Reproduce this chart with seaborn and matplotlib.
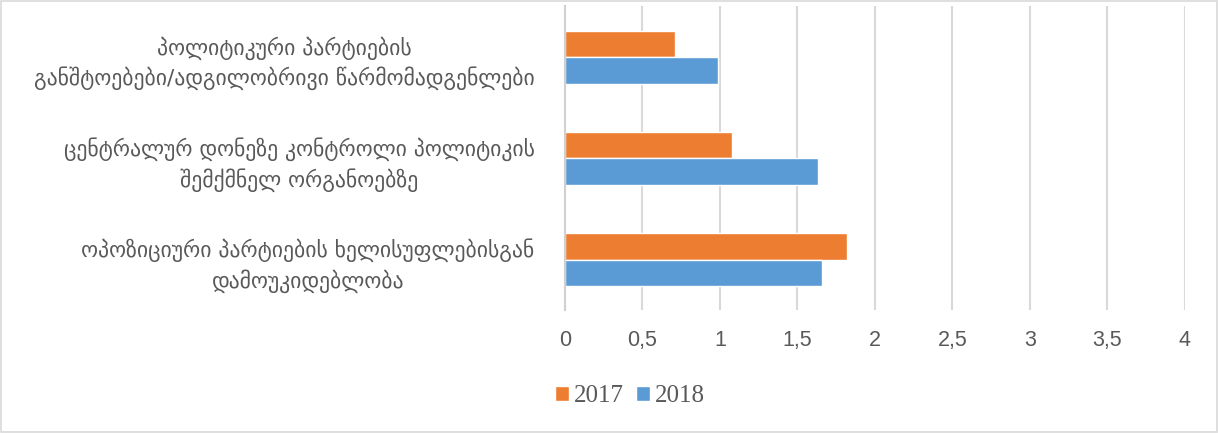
import matplotlib
matplotlib.use("Agg")
import matplotlib.pyplot as plt
import seaborn as sns
import pandas as pd
from matplotlib.ticker import FixedLocator
from matplotlib.patches import Rectangle

categories = [
    "პოლიტიკური პარტიების\nგანშტოებები/ადგილობრივი წარმომადგენლები",
    "ცენტრალურ დონეზე კონტროლი პოლიტიკის\nშემქმნელ ორგანოებზე",
    "ოპოზიციური პარტიების ხელისუფლებისგან\nდამოუკიდებლობა",
]
years = ["2017", "2018"]
values_2017 = [0.71, 1.08, 1.82]
values_2018 = [0.99, 1.63, 1.66]
xticks = [0, 0.5, 1, 1.5, 2, 2.5, 3, 3.5, 4]
xtick_labels = ["0", "0,5", "1", "1,5", "2", "2,5", "3", "3,5", "4"]

df = pd.DataFrame({
    "category": categories * 2,
    "year": [years[0]] * 3 + [years[1]] * 3,
    "value": values_2017 + values_2018,
})

sns.set_style("white")
text_color = "#595959"

fig = plt.figure(figsize=(12.19, 4.33), dpi=100)
ax = fig.add_axes([0.4635, 0.283, 0.972 - 0.4635, 0.985 - 0.283])

sns.barplot(data=df, y="category", x="value", hue="year", orient="h",
            palette={"2017": "#ED7D31", "2018": "#5B9BD5"},
            width=0.525, ax=ax, saturation=1, legend=True)

ax.set_xlim(0, 4)
ax.set_ylim(2.5, -0.5)
ax.xaxis.set_major_locator(FixedLocator(xticks))
ax.set_xticklabels(xtick_labels, family="Liberation Sans", fontsize=15.5, color=text_color)
ax.tick_params(axis="x", length=0, pad=14)
ax.tick_params(axis="y", length=0, pad=22)
for lbl in ax.get_yticklabels():
    lbl.set_family("DejaVu Sans")
    lbl.set_fontsize(15.6)
    lbl.set_color(text_color)
    lbl.set_multialignment("center")
    lbl.set_linespacing(1.38)
ax.set_xlabel("")
ax.set_ylabel("")
ax.grid(axis="x", color="#D9D9D9", linewidth=1.5)
ax.set_axisbelow(True)
for s in ["top", "right", "bottom"]:
    ax.spines[s].set_visible(False)
ax.spines["left"].set_color("#D0D0D0")
ax.spines["left"].set_linewidth(1.5)

handles, labels = ax.get_legend_handles_labels()
ax.get_legend().remove()
fig.legend(handles, labels, loc="center", bbox_to_anchor=(0.517, 0.085), ncol=2,
           frameon=False, prop={"family": "Liberation Serif", "size": 18},
           handlelength=0.55, handleheight=0.55, handletextpad=0.2, columnspacing=0.5,
           labelcolor=text_color)

fig.patches.append(Rectangle((0.001, 0.003), 0.997, 0.995, transform=fig.transFigure,
                             fill=False, edgecolor="#D9D9D9", linewidth=1.2))

fig.savefig("out.png", dpi=100)
